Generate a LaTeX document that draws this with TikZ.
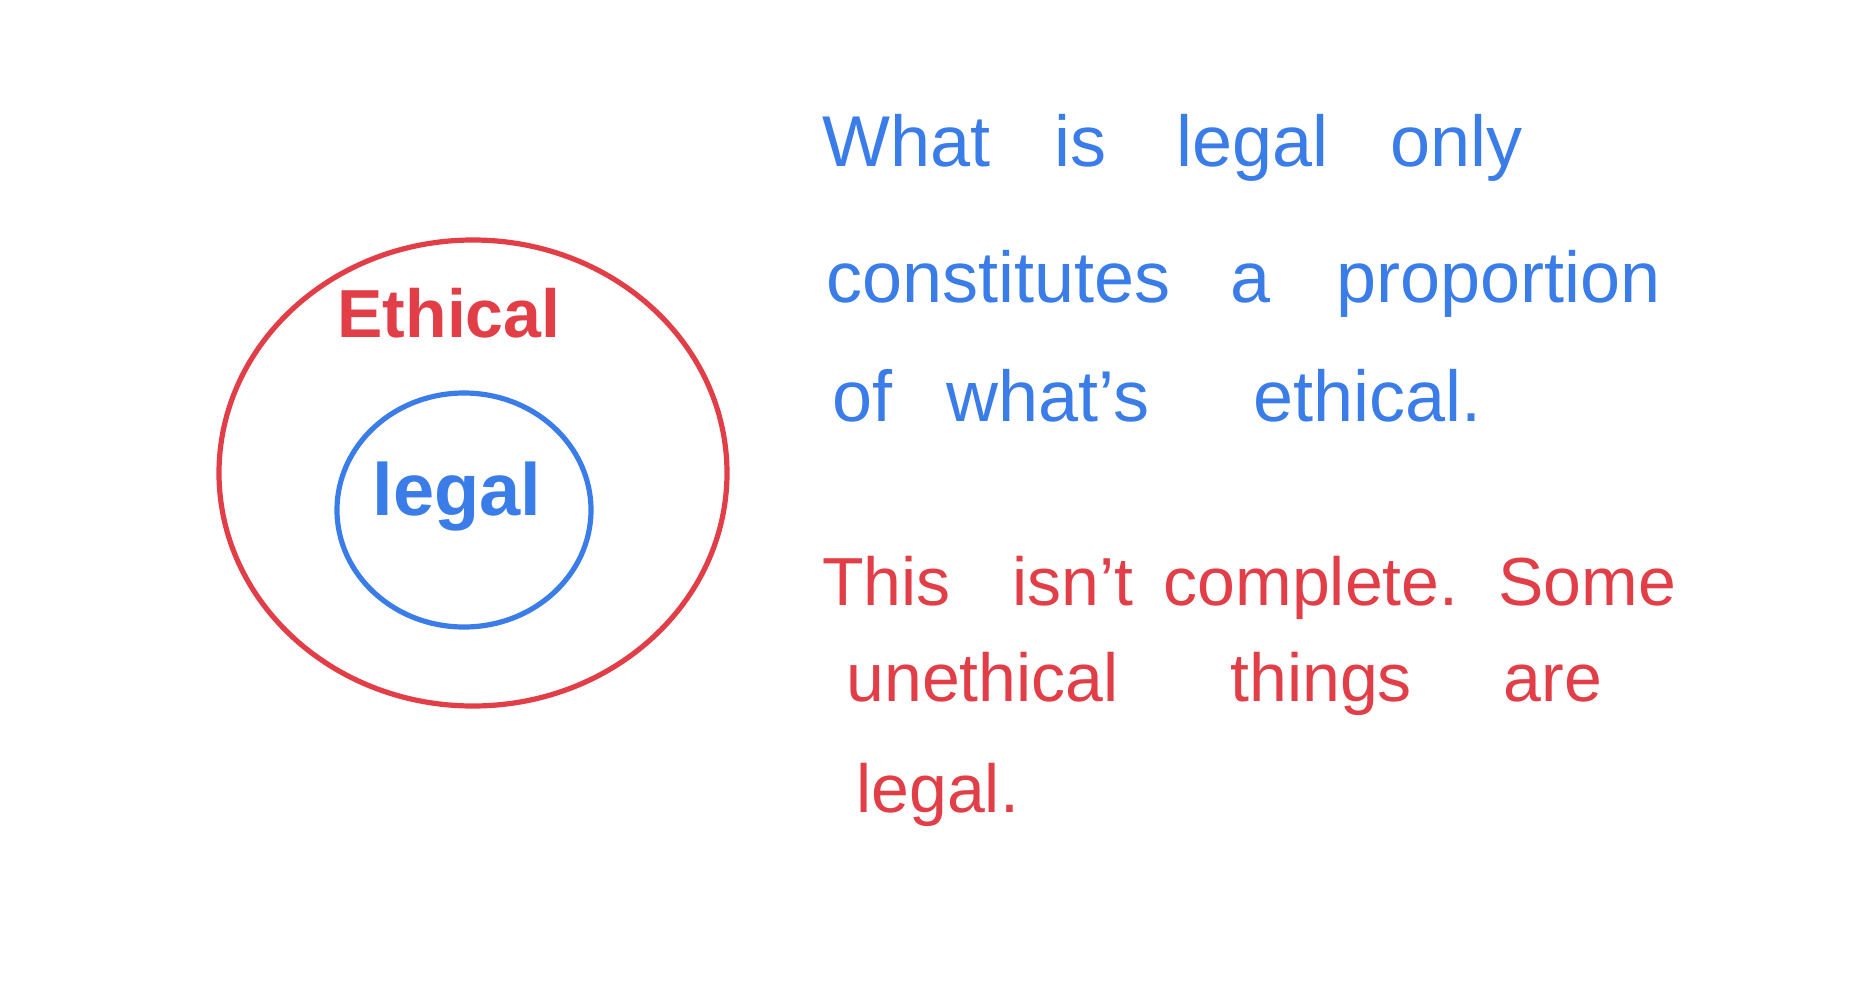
\documentclass[tikz,border=0pt]{standalone}
\usepackage{fontspec}
\setmainfont{Liberation Sans}
\definecolor{hred}{RGB}{226,62,72}
\definecolor{hblue}{RGB}{58,124,232}
\tikzset{
  ring/.style={line width=2.6pt},
  handtext/.style={anchor=west, inner sep=0pt, font=\fontsize{34}{40}\selectfont},
  bluetext/.style={handtext, text=hblue, font=\fontsize{36}{40}\selectfont},
  redtext/.style={handtext, text=hred},
  label/.style={inner sep=0pt, font=\bfseries\fontsize{34}{40}\selectfont}
}
\begin{document}
\begin{tikzpicture}[x=0.5pt,y=-0.5pt]
\useasboundingbox (0,0) rectangle (1854,996);
% circles
\draw[ring, hred] (473,473) ellipse [x radius=254, y radius=233];
\draw[ring, hblue] (464,510) ellipse [x radius=127, y radius=117];
\node[label, text=hred] (ethical) at (449,313) {Ethical};
\node[label, text=hblue, font=\bfseries\fontsize{37}{40}\selectfont] (legal) at (457,497) {legal};
% blue text
\node[bluetext] (b1) at (822,148) {What\hspace{32pt}is\hspace{35pt}legal\hspace{31pt}only};
\node[bluetext] (b2) at (826,284) {constitutes\hspace{30pt}a\hspace{33pt}proportion};
\node[bluetext] (b3) at (832,396) {of\hspace{27pt}what's\hspace{52pt}ethical.};
% red text
\node[redtext] (r1) at (822,588) {This\hspace{31pt}isn't\hspace{15pt}complete.\hspace{20pt}Some};
\node[redtext] (r2) at (846,684) {unethical\hspace{56pt}things\hspace{46pt}are};
\node[redtext] (r3) at (856,795) {legal.};
\end{tikzpicture}
\end{document}
